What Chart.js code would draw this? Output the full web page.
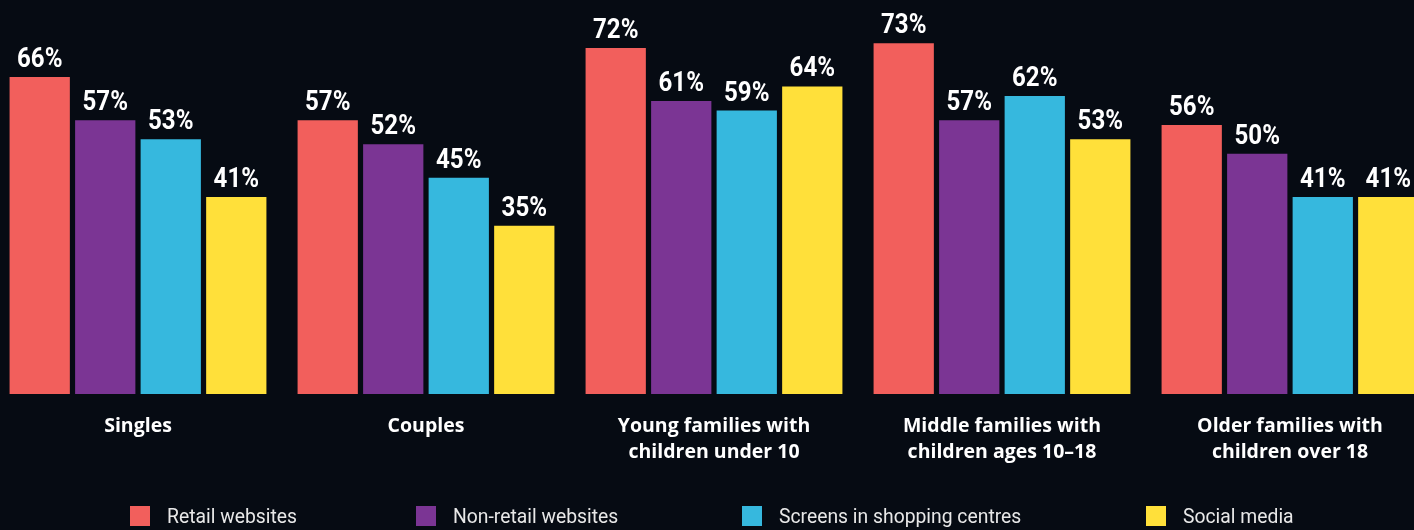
<!DOCTYPE html>
<html><head><meta charset="utf-8">
<script src="https://cdn.jsdelivr.net/npm/chart.js@4/dist/chart.umd.min.js"></script>
<style>
html,body{margin:0;padding:0;background:#060b13;overflow:hidden;width:1414px;height:530px}
#wrap{position:absolute;left:-6px;top:0;width:1440px;height:530px}
</style></head><body>
<div id="wrap"><canvas id="c"></canvas></div>
<script>
const categories = [["Singles"],["Couples"],["Young families with","children under 10"],["Middle families with","children ages 10–18"],["Older families with","children over 18"]];
const seriesNames = ["Retail websites","Non-retail websites","Screens in shopping centres","Social media"];
const retail = [66,57,72,73,56];
const nonRetail = [57,52,61,57,50];
const screens = [53,45,59,62,41];
const social = [41,35,64,53,41];
const colors = ["#f25f5c","#7b3594","#36b8de","#ffe03a"];
const legendX = [136,422,748,1152];

const valueLabels = {
  id:'valueLabels',
  afterDatasetsDraw(chart){
    const ctx = chart.ctx;
    ctx.save();
    ctx.font = 'bold 28px Roboto,sans-serif';
    ctx.fillStyle = '#ffffff';
    ctx.textAlign = 'center';
    ctx.textBaseline = 'alphabetic';
    const sx = 0.86;
    chart.data.datasets.forEach((ds,i)=>{
      chart.getDatasetMeta(i).data.forEach((bar,j)=>{
        ctx.save();
        ctx.translate(bar.x, bar.y-10);
        ctx.scale(sx,1);
        ctx.fillText(ds.data[j]+'%', 0, 0);
        ctx.restore();
      });
    });
    ctx.restore();
  }
};
const customLegend = {
  id:'customLegend',
  afterDraw(chart){
    const ctx = chart.ctx;
    ctx.save();
    ctx.font = '21px Roboto,sans-serif';
    ctx.textBaseline = 'middle';
    ctx.textAlign = 'left';
    chart.data.datasets.forEach((ds,i)=>{
      const x = legendX[i];
      ctx.fillStyle = ds.backgroundColor;
      ctx.fillRect(x, 506, 20, 20);
      ctx.fillStyle = '#e8e8e8';
      ctx.save();
      ctx.translate(x+37, 518);
      ctx.scale(0.92,1);
      ctx.fillText(ds.label, 0, 0);
      ctx.restore();
    });
    ctx.restore();
  }
};

const seriesData = [retail, nonRetail, screens, social];
new Chart(document.getElementById('c'), {
  type:'bar',
  data:{
    labels: categories,
    datasets: seriesNames.map((n,i)=>({label:n, data:seriesData[i], backgroundColor:colors[i], borderWidth:0, categoryPercentage:0.91, barPercentage:0.92}))
  },
  options:{
    responsive:true, maintainAspectRatio:false, animation:false,
    layout:{padding:{top:0,bottom:46,left:0,right:0}},
    plugins:{legend:{display:false}, tooltip:{enabled:false}},
    scales:{
      x:{grid:{display:false,drawTicks:false}, border:{display:false},
         ticks:{color:'#ffffff', padding:19, maxRotation:0, autoSkip:false,
           font:{family:'"Open Sans",sans-serif', weight:'bold', size:19.5, lineHeight:1.333}}},
      y:{display:false, min:0, max:82}
    }
  },
  plugins:[valueLabels, customLegend]
});
</script>
</body></html>
